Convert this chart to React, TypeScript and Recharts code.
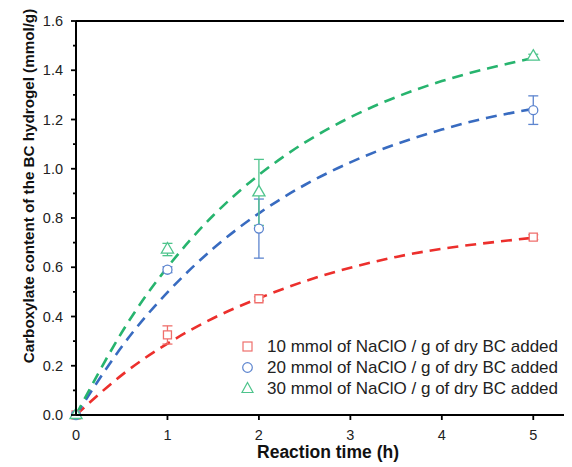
import React from 'react';
import { ComposedChart, Line, Scatter, ErrorBar, XAxis, YAxis, Legend } from 'recharts';

// Fitted curve readings (t in h, v in mmol/g)
const curveT = [0, 0.5, 1, 1.5, 2, 2.5, 3, 3.5, 4, 4.5, 5];
const curve10 = [0, 0.162, 0.29, 0.393, 0.474, 0.543, 0.598, 0.642, 0.675, 0.699, 0.72];
const curve20 = [0, 0.277, 0.498, 0.676, 0.819, 0.934, 1.026, 1.10, 1.159, 1.207, 1.243];
const curve30 = [0, 0.335, 0.60, 0.81, 0.975, 1.106, 1.209, 1.291, 1.356, 1.407, 1.45];

// Measured points
const pointT = [0, 1, 2, 5];
const pts10 = [0, 0.325, 0.472, 0.722];
const err10 = [0, 0.037, 0.008, 0.01];
const pts20 = [0, 0.59, 0.757, 1.238];
const err20 = [0, 0.012, 0.12, 0.058];
const pts30 = [0, 0.672, 0.904, 1.455];
const err30 = [0, 0.025, 0.134, 0.01];

const xDomain = [0, 5.5];
const yDomain = [0, 1.6];
const xTicks = [0, 1, 2, 3, 4, 5];
const yTicks = [0, 0.1, 0.2, 0.3, 0.4, 0.5, 0.6, 0.7, 0.8, 0.9, 1.0, 1.1, 1.2, 1.3, 1.4, 1.5, 1.6];

const seriesNames = [
  '10 mmol of NaClO / g of dry BC added',
  '20 mmol of NaClO / g of dry BC added',
  '30 mmol of NaClO / g of dry BC added',
];

const LINE_RED = '#ec2f2c';
const LINE_BLUE = '#386bc0';
const LINE_GREEN = '#27b46e';
const MK_RED = '#ef6f6c';
const MK_BLUE = '#5d85cf';
const MK_GREEN = '#4ec48c';

const FONT = 'Liberation Sans, Arial, Helvetica, sans-serif';

const CHART_W = 590;
const CHART_H = 459;
const MARGIN = { top: 13, right: 19, bottom: 0, left: 0 };

const mkCurve = (vals: number[]) => curveT.map((t, i) => ({ t, v: vals[i] }));
const mkPts = (vals: number[], errs: number[]) => pointT.map((t, i) => ({ t, v: vals[i], err: errs[i] }));

const c10 = mkCurve(curve10);
const c20 = mkCurve(curve20);
const c30 = mkCurve(curve30);
const p10 = mkPts(pts10, err10);
const p20 = mkPts(pts20, err20);
const p30 = mkPts(pts30, err30);

// top frame line, built from the axis domains
const frameTop = [{ t: xDomain[0], v: yDomain[1] }, { t: xDomain[1], v: yDomain[1] }];

const YTick = (props: any) => {
  const { x, y, payload } = props;
  const v = payload.value as number;
  const major = Math.round(v * 10) % 2 === 0;
  return (
    <g>
      <line x1={x - (major ? 5 : 3)} y1={y} x2={x} y2={y} stroke="#000" strokeWidth={1.8} />
      {major && (
        <text x={x - 13} y={y} dy={5} textAnchor="end" fontSize={14.5} fill="#222" fontFamily={FONT}>
          {v.toFixed(1)}
        </text>
      )}
    </g>
  );
};

const LegendContent = () => {
  const icons = [
    <rect key="s" x={3} y={3} width={9} height={9} fill="#fff" stroke={MK_RED} strokeWidth={1.2} />,
    <circle key="c" cx={7.5} cy={7.5} r={4.8} fill="#fff" stroke={MK_BLUE} strokeWidth={1.2} />,
    <polygon key="t" points="7.5,1.5 13,11.5 2,11.5" fill="#fff" stroke={MK_GREEN} strokeWidth={1.2} />,
  ];
  return (
    <div style={{ fontFamily: FONT }}>
      {seriesNames.map((n, i) => (
        <div key={n} style={{ display: 'flex', alignItems: 'center', height: 21 }}>
          <svg width={15} height={15} style={{ marginRight: 12 }}>
            {icons[i]}
          </svg>
          <span style={{ fontSize: 17, color: '#222', whiteSpace: 'nowrap' }}>{n}</span>
        </div>
      ))}
    </div>
  );
};

// Frame overlay: same geometry as the main chart, only axis lines and the top border
function FrameOverlay() {
  return (
    <div style={{ position: 'absolute', left: 0, top: 0, pointerEvents: 'none' }}>
      <ComposedChart width={CHART_W} height={CHART_H} margin={MARGIN}>
        <XAxis
          dataKey="t"
          type="number"
          domain={xDomain}
          ticks={xTicks}
          height={52}
          stroke="#000"
          axisLine={{ stroke: '#000', strokeWidth: 2 }}
          tick={false}
          tickLine={false}
        />
        <YAxis
          type="number"
          domain={yDomain}
          ticks={yTicks}
          width={68}
          stroke="#000"
          axisLine={{ stroke: '#000', strokeWidth: 2 }}
          tick={false}
          tickLine={false}
        />
        <Line data={frameTop} dataKey="v" type="linear" stroke="#000" strokeWidth={2} dot={false} isAnimationActive={false} />
      </ComposedChart>
    </div>
  );
}

export default function App() {
  return (
    <div style={{ width: 564, height: CHART_H, overflow: 'hidden', position: 'relative' }}>
      <ComposedChart width={CHART_W} height={CHART_H} margin={MARGIN}>
        <XAxis
          dataKey="t"
          type="number"
          domain={xDomain}
          ticks={xTicks}
          height={52}
          stroke="#000"
          axisLine={{ stroke: '#000', strokeWidth: 2 }}
          tickLine={{ stroke: '#000', strokeWidth: 1.8 }}
          tickSize={5}
          tickMargin={10}
          tick={{ fontSize: 14.5, fill: '#222', fontFamily: FONT }}
          label={{
            content: () => (
              <text x={320} y={450} textAnchor="middle" fontSize={17.5} fontWeight="bold" fill="#111" fontFamily={FONT}>
                Reaction time (h)
              </text>
            ),
          }}
        />
        <YAxis
          type="number"
          domain={yDomain}
          ticks={yTicks}
          interval={0}
          width={68}
          stroke="#000"
          axisLine={{ stroke: '#000', strokeWidth: 2 }}
          tickLine={false}
          tickSize={0}
          tickMargin={0}
          tick={<YTick />}
          label={{
            content: () => (
              <text
                x={20}
                y={178}
                transform="rotate(-90, 20, 178)"
                textAnchor="middle"
                dominantBaseline="central"
                fontSize={15.2}
                fontWeight="bold"
                fill="#111"
                fontFamily={FONT}
              >
                Carboxylate content of the BC hydrogel (mmol/g)
              </text>
            ),
          }}
        />
        <Line data={c10} dataKey="v" type="natural" stroke={LINE_RED} strokeWidth={2.6} strokeDasharray="11 7" dot={false} isAnimationActive={false} />
        <Line data={c20} dataKey="v" type="natural" stroke={LINE_BLUE} strokeWidth={2.6} strokeDasharray="11 7" dot={false} isAnimationActive={false} />
        <Line data={c30} dataKey="v" type="natural" stroke={LINE_GREEN} strokeWidth={2.6} strokeDasharray="11 7" dot={false} isAnimationActive={false} />
        <Scatter data={p10} dataKey="v" shape="square" fill="#fff" stroke={MK_RED} strokeWidth={1.3} isAnimationActive={false}>
          <ErrorBar dataKey="err" direction="y" width={5} stroke={MK_RED} strokeWidth={1.3} />
        </Scatter>
        <Scatter data={p20} dataKey="v" shape="circle" fill="#fff" stroke={MK_BLUE} strokeWidth={1.3} isAnimationActive={false}>
          <ErrorBar dataKey="err" direction="y" width={5} stroke={MK_BLUE} strokeWidth={1.3} />
        </Scatter>
        <Scatter data={p30} dataKey="v" shape="triangle" fill="#fff" stroke={MK_GREEN} strokeWidth={1.3} isAnimationActive={false}>
          <ErrorBar dataKey="err" direction="y" width={5} stroke={MK_GREEN} strokeWidth={1.3} />
        </Scatter>
        <Legend
          layout="vertical"
          align="center"
          verticalAlign="middle"
          content={() => <LegendContent />}
          wrapperStyle={{ position: 'absolute', left: 232, top: 328, width: 340 }}
        />
      </ComposedChart>
      <FrameOverlay />
    </div>
  );
}
